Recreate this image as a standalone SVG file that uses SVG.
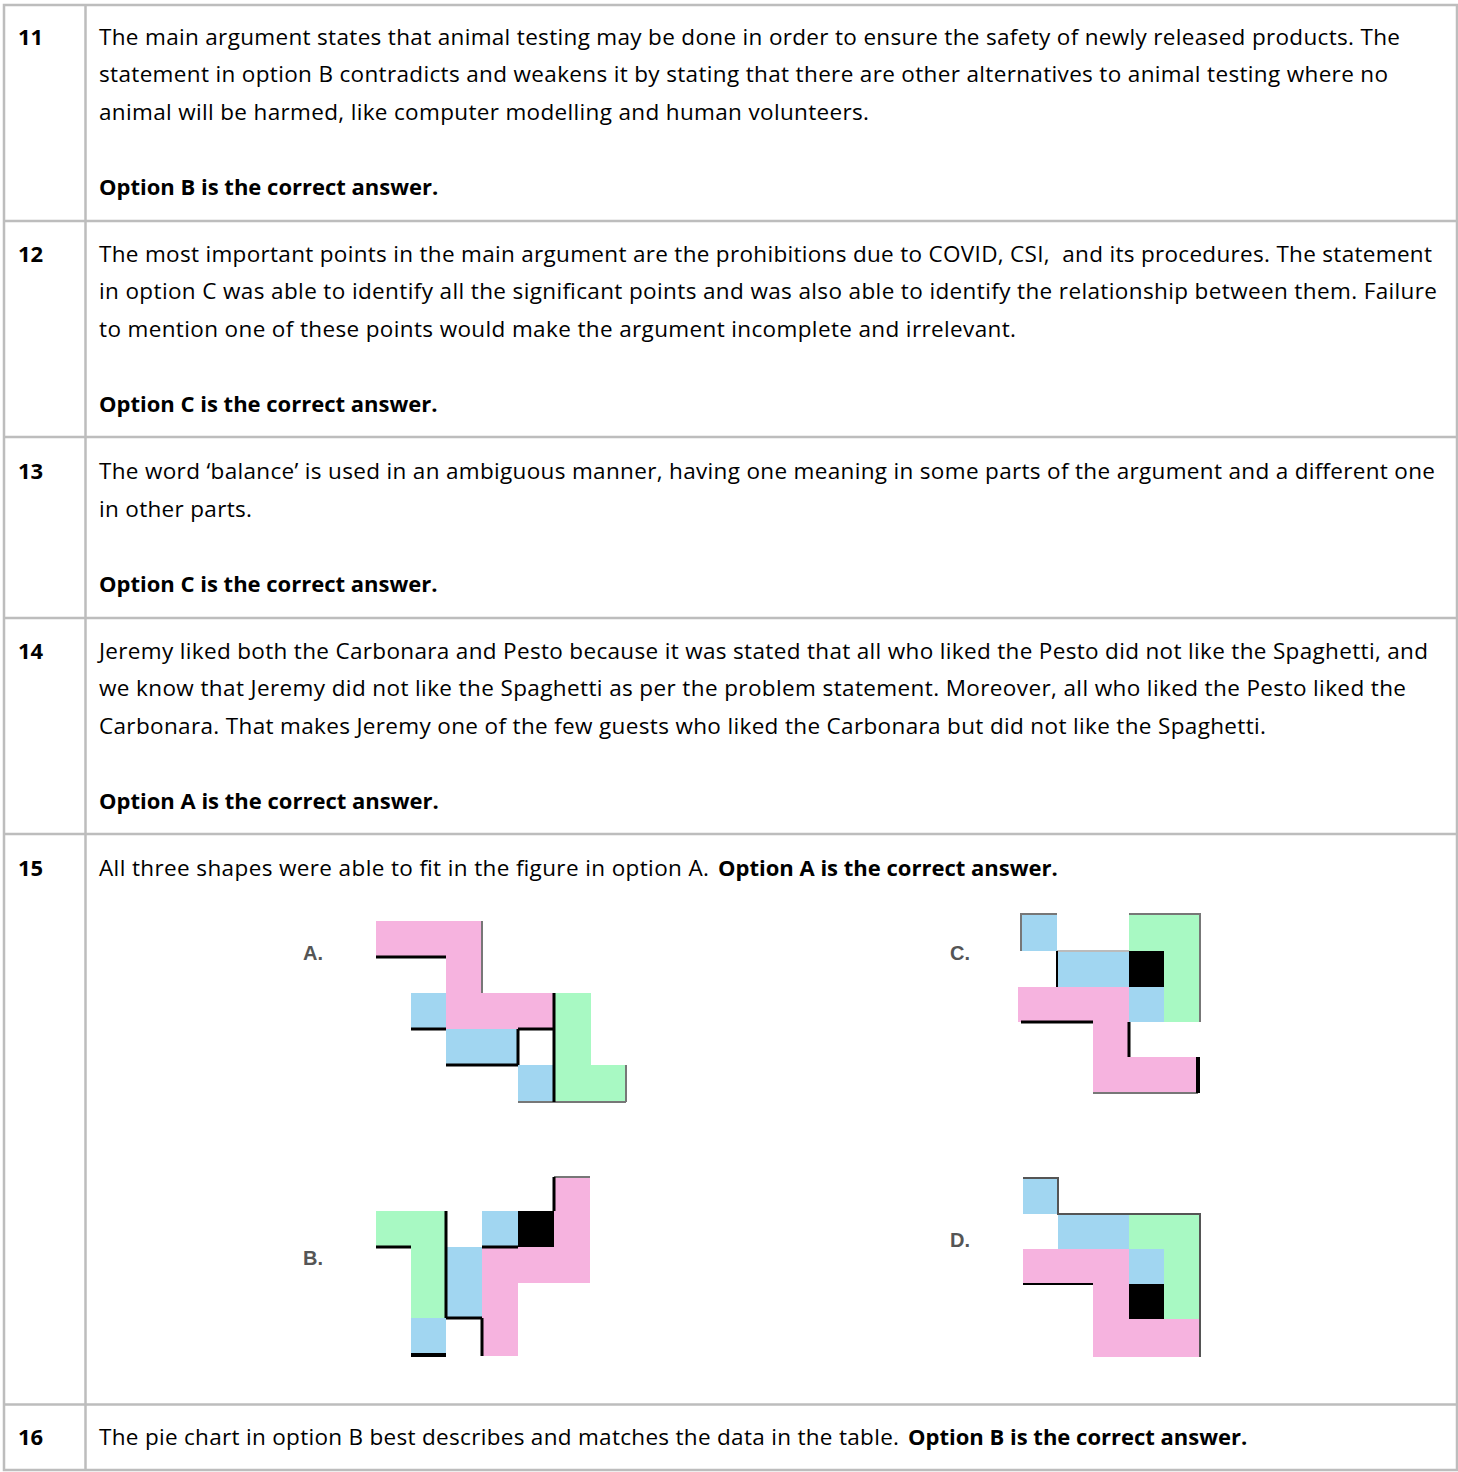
<svg xmlns="http://www.w3.org/2000/svg" width="1458" height="1472" viewBox="0 0 1458 1472">
<style>
.t{font-family:"Open Sans","Noto Sans","Liberation Sans",sans-serif;font-size:22.5px;fill:#000;white-space:pre}
.b{font-weight:bold;font-size:22px}
.grid{stroke:#bdbdbd;stroke-width:2.5;fill:none}
.pk{fill:#f6b3df}
.bl{fill:#a1d6f1}
.gr{fill:#a8f9c3}
.bk{fill:#000}
.ln{stroke:#000;stroke-width:3;fill:none}
.lg{stroke:#777;stroke-width:2;fill:none}
.lab{font-family:"Liberation Sans",Arial,sans-serif;font-size:20px;font-weight:bold;fill:#555}
</style>
<rect width="1458" height="1472" fill="#fff"/>
<g id="table">
<path class="grid" d="M4,5 H1457 V1470 H4 Z M85.5,5 V1470 M4,221 H1457 M4,437 H1457 M4,618 H1457 M4,834 H1457 M4,1404.5 H1457"/>
</g>
<g id="row11">
<text class="t b" x="18" y="45">11</text>
<text class="t" x="99" y="45" textLength="1301" lengthAdjust="spacing">The main argument states that animal testing may be done in order to ensure the safety of newly released products. The</text>
<text class="t" x="99" y="82" textLength="1289" lengthAdjust="spacing">statement in option B contradicts and weakens it by stating that there are other alternatives to animal testing where no</text>
<text class="t" x="99" y="120" textLength="770" lengthAdjust="spacing">animal will be harmed, like computer modelling and human volunteers.</text>
<text class="t b" x="99" y="195">Option B is the correct answer.</text>
</g>
<g id="row12">
<text class="t b" x="18" y="262">12</text>
<text class="t" x="99" y="262" textLength="1333" lengthAdjust="spacing">The most important points in the main argument are the prohibitions due to COVID, CSI,  and its procedures. The statement</text>
<text class="t" x="99" y="299" textLength="1338" lengthAdjust="spacing">in option C was able to identify all the significant points and was also able to identify the relationship between them. Failure</text>
<text class="t" x="99" y="337" textLength="917" lengthAdjust="spacing">to mention one of these points would make the argument incomplete and irrelevant.</text>
<text class="t b" x="99" y="412">Option C is the correct answer.</text>
</g>
<g id="row13">
<text class="t b" x="18" y="479">13</text>
<text class="t" x="99" y="479" textLength="1336" lengthAdjust="spacing">The word ‘balance’ is used in an ambiguous manner, having one meaning in some parts of the argument and a different one</text>
<text class="t" x="99" y="517" textLength="153" lengthAdjust="spacing">in other parts.</text>
<text class="t b" x="99" y="592">Option C is the correct answer.</text>
</g>
<g id="row14">
<text class="t b" x="18" y="659">14</text>
<text class="t" x="99" y="659" textLength="1329" lengthAdjust="spacing">Jeremy liked both the Carbonara and Pesto because it was stated that all who liked the Pesto did not like the Spaghetti, and</text>
<text class="t" x="99" y="696" textLength="1307" lengthAdjust="spacing">we know that Jeremy did not like the Spaghetti as per the problem statement. Moreover, all who liked the Pesto liked the</text>
<text class="t" x="99" y="734" textLength="1167" lengthAdjust="spacing">Carbonara. That makes Jeremy one of the few guests who liked the Carbonara but did not like the Spaghetti.</text>
<text class="t b" x="99" y="809">Option A is the correct answer.</text>
</g>
<g id="row15">
<text class="t b" x="18" y="876">15</text>
<text class="t" x="99" y="876" textLength="610" lengthAdjust="spacing">All three shapes were able to fit in the figure in option A.</text>
<text class="t b" x="718" y="876">Option A is the correct answer.</text>
</g>
<g id="figA">
<text class="lab" x="303" y="960">A.</text>
<path class="pk" d="M376,921 H482 V993 H554 V1029 H446 V957 H376 Z"/>
<rect class="bl" x="411" y="993" width="35" height="36"/>
<rect class="bl" x="446" y="1029" width="72" height="36"/>
<rect class="bl" x="518" y="1065" width="36" height="37"/>
<path class="gr" d="M554,993 H591 V1065 H626 V1102 H554 Z"/>
<path class="lg" d="M482,921 V993 M518,1102 H626 M626,1065 V1102"/>
<path class="ln" d="M376,957 H446 M411,1029 H446 M446,1065 H518 M554,993 V1102 M518,1029 H554 M518,1029 V1065"/>
</g>
<g id="figB">
<text class="lab" x="303" y="1265">B.</text>
<path class="gr" d="M376,1211 H446 V1318 H411 V1247 H376 Z"/>
<rect class="bl" x="411" y="1318" width="35" height="38"/>
<rect class="bl" x="446" y="1247" width="36" height="71"/>
<rect class="bl" x="482" y="1211" width="36" height="36"/>
<rect class="bk" x="518" y="1211" width="36" height="36"/>
<path class="pk" d="M554,1177 H590 V1283 H518 V1356 H482 V1247 H554 Z"/>
<path class="lg" d="M554,1177 H590"/>
<path class="ln" d="M376,1247 H411 M446,1211 V1318 M446,1318 H482 M482,1318 V1356 M554,1177 V1211 M482,1247 H518"/>
<path class="ln" style="stroke-width:4" d="M411,1355 H446"/>
</g>
<g id="figC">
<text class="lab" x="950" y="960">C.</text>
<rect class="bl" x="1021" y="914" width="36" height="37"/>
<rect class="bl" x="1057" y="951" width="72" height="36"/>
<rect class="bl" x="1129" y="987" width="35" height="35"/>
<rect class="bk" x="1129" y="951" width="35" height="36"/>
<path class="gr" d="M1129,914 H1200 V1022 H1164 V951 H1129 Z"/>
<path class="pk" d="M1018,987 H1129 V1057 H1200 V1093 H1093 V1022 H1018 Z"/>
<path class="lg" d="M1021,951 V914 H1057 M1129,914 H1200 V1022 M1093,1093 H1198"/>
<path class="lg" style="stroke:#bbb" d="M1057,951 H1129"/>
<path class="ln" style="stroke-width:2" d="M1057,951 V987"/>
<path class="ln" d="M1021,1022 H1093 M1129,1022 V1057"/>
<path class="ln" style="stroke-width:4" d="M1198,1057 V1093"/>
</g>
<g id="figD">
<text class="lab" x="950" y="1247">D.</text>
<rect class="bl" x="1023" y="1178" width="35" height="36"/>
<rect class="bl" x="1058" y="1214" width="71" height="35"/>
<rect class="bl" x="1129" y="1249" width="35" height="35"/>
<path class="gr" d="M1129,1214 H1200 V1319 H1164 V1249 H1129 Z"/>
<rect class="bk" x="1129" y="1284" width="35" height="35"/>
<path class="pk" d="M1023,1249 H1129 V1319 H1200 V1357 H1093 V1284 H1023 Z"/>
<path class="lg" style="stroke:#555" d="M1023,1178 H1058 V1214 H1200 V1357"/>
<path class="ln" style="stroke-width:2" d="M1023,1284 H1093"/>
</g>
<g id="row16">
<text class="t b" x="18" y="1445">16</text>
<text class="t" x="99" y="1445" textLength="800" lengthAdjust="spacing">The pie chart in option B best describes and matches the data in the table.</text>
<text class="t b" x="908" y="1445">Option B is the correct answer.</text>
</g>
</svg>
